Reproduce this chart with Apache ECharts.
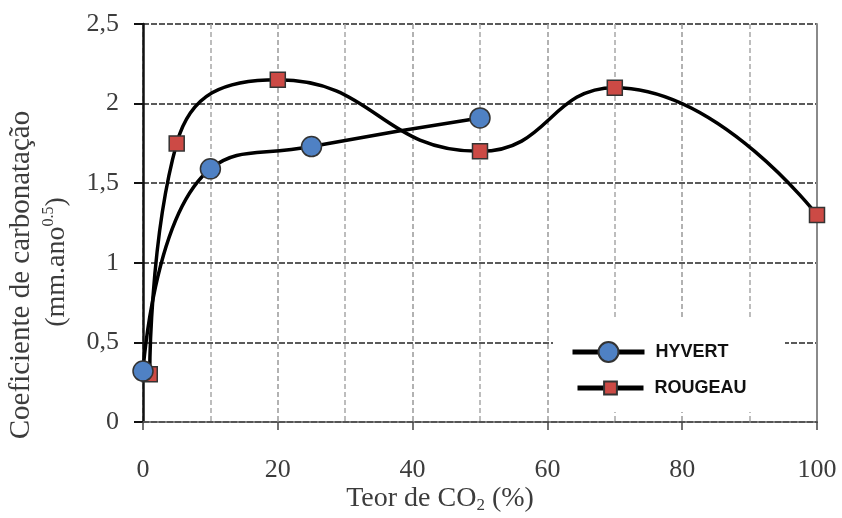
<!DOCTYPE html>
<html><head><meta charset="utf-8">
<script src="https://cdn.jsdelivr.net/npm/echarts@6/dist/echarts.min.js"></script>
<style>html,body{margin:0;padding:0;background:#fff}#c{width:842px;height:518px}</style>
</head><body><div id="c"></div>
<script>
// ---- data ----
const hyvertX = [0, 10, 25, 50];
const hyvertY = [0.32, 1.59, 1.73, 1.91];
const rougeauX = [1, 5, 20, 50, 70, 100];
const rougeauY = [0.30, 1.75, 2.15, 1.70, 2.10, 1.30];
const seriesNames = ['HYVERT', 'ROUGEAU'];
const xTicks = [0, 20, 40, 60, 80, 100];
const yTicks = [0, 0.5, 1, 1.5, 2, 2.5];
const xTitle = ['Teor de CO', '2', ' (%)'];
const yTitle1 = 'Coeficiente de carbonatação';
const yTitle2 = ['(mm.ano', '0.5', ')'];

const serif = "'Liberation Serif', 'DejaVu Serif', serif";
const txt = '#3c3c3c';
const pair = (xs, ys) => xs.map((x, i) => [x, ys[i]]);
const legendText = { fontFamily: "'Liberation Sans', Arial, sans-serif", fontWeight: 'bold', fontSize: 18,
  color: '#111', padding: [0, 0, 0, 6], textShadowColor: 'rgba(40,70,170,0.7)', textShadowOffsetX: -1, textShadowOffsetY: 1 };

const chart = echarts.init(document.getElementById('c'));
chart.setOption({
  animation: false,
  backgroundColor: '#fff',
  grid: { left: 143, right: 25, top: 24, bottom: 96 },
  xAxis: {
    type: 'value', min: xTicks[0], max: xTicks[xTicks.length - 1], interval: 20,
    axisLine: { show: true, onZero: false, lineStyle: { color: '#555', width: 2, type: [6, 2] } },
    axisTick: { show: true, length: 8, lineStyle: { color: '#444', width: 1.5 } },
    minorTick: { show: false, splitNumber: 2 },
    axisLabel: { margin: 35, fontFamily: serif, fontSize: 26, color: txt },
    splitLine: { show: true, lineStyle: { color: '#999', width: 1.5, type: [5, 3] } },
    minorSplitLine: { show: true, lineStyle: { color: '#a8a8a8', width: 1.5, type: [5, 3] } }
  },
  yAxis: [{
    type: 'value', min: yTicks[0], max: yTicks[yTicks.length - 1], interval: 0.5,
    axisLine: { show: true, lineStyle: { color: '#111', width: 2.5 } },
    axisTick: { show: true, length: 9, lineStyle: { color: '#111', width: 2 } },
    axisLabel: { margin: 24, fontFamily: serif, fontSize: 26, color: txt,
      formatter: v => String(v).replace('.', ',') },
    splitLine: { show: true, lineStyle: { color: '#5a5a5a', width: 2, type: [6, 2] } }
  }, {
    type: 'value', position: 'right', min: yTicks[0], max: yTicks[yTicks.length - 1], interval: 0.5,
    axisLine: { show: true, lineStyle: { color: '#8a8a8a', width: 2 } },
    axisTick: { show: false }, axisLabel: { show: false }, splitLine: { show: false }
  }],
  legend: [{
    data: [seriesNames[0]], selectedMode: false, left: 570, top: 341, padding: 0,
    itemWidth: 72, itemHeight: 25, lineStyle: { width: 5, color: '#000' }, textStyle: legendText
  }, {
    data: [seriesNames[1]], selectedMode: false, left: 575, top: 379, padding: 0,
    itemWidth: 66, itemHeight: 16, lineStyle: { width: 5, color: '#000' }, textStyle: legendText
  }],
  graphic: [
    { type: 'rect', z: 1, shape: { x: 553, y: 320, width: 232, height: 92 }, style: { fill: '#fff' } },
    { type: 'text', x: 440, y: 499, style: {
        text: '{a|' + xTitle[0] + '}{b|' + xTitle[1] + '}{a|' + xTitle[2] + '}',
        align: 'center', verticalAlign: 'middle',
        rich: {
          a: { fontFamily: serif, fontSize: 28, fill: txt, lineHeight: 30 },
          b: { fontFamily: serif, fontSize: 17, fill: txt, lineHeight: 14, verticalAlign: 'bottom' }
        } } },
    { type: 'text', x: 21, y: 275, rotation: Math.PI / 2, style: {
        text: yTitle1, align: 'center', verticalAlign: 'middle',
        fontFamily: serif, fontSize: 29, fill: txt } },
    { type: 'text', x: 57, y: 262, rotation: Math.PI / 2, style: {
        text: '{a|' + yTitle2[0] + '}{s|' + yTitle2[1] + '}{a|' + yTitle2[2] + '}',
        align: 'center', verticalAlign: 'middle',
        rich: {
          a: { fontFamily: serif, fontSize: 28, fill: txt, lineHeight: 32 },
          s: { fontFamily: serif, fontSize: 16, fill: txt, lineHeight: 16, verticalAlign: 'top' }
        } } }
  ],
  series: [{
    name: seriesNames[1], type: 'line', z: 3, data: pair(rougeauX, rougeauY), smooth: 0.5,
    symbol: 'rect', symbolSize: 15,
    lineStyle: { color: '#000', width: 3.5 },
    itemStyle: { color: '#cc4a45', borderColor: '#333', borderWidth: 1.5 }
  }, {
    name: seriesNames[0], type: 'line', z: 4, data: pair(hyvertX, hyvertY), smooth: 0.5,
    symbol: 'circle', symbolSize: 20,
    lineStyle: { color: '#000', width: 3.5 },
    itemStyle: { color: '#4f81c4', borderColor: '#333', borderWidth: 1.5 }
  }]
});
</script></body></html>
